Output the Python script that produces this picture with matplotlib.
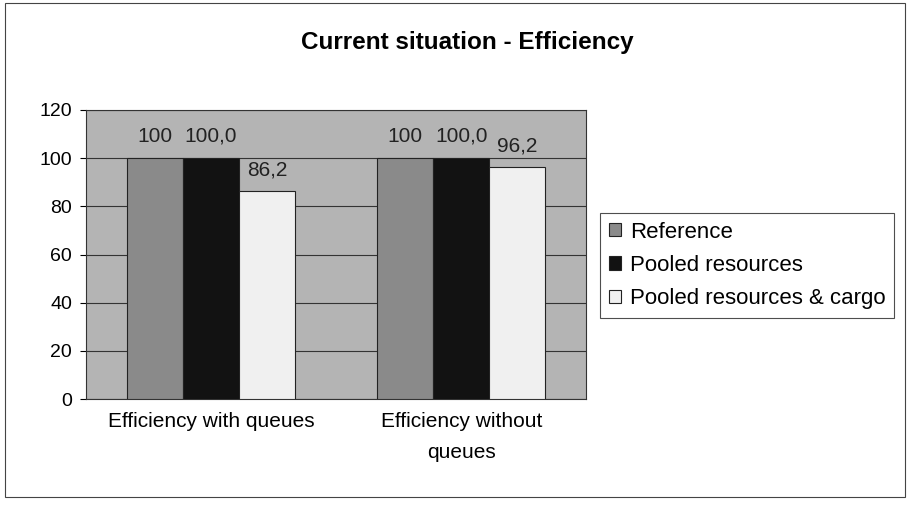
import matplotlib.pyplot as plt
import matplotlib.patches as mpatches
import numpy as np

plt.rcParams["font.family"] = ["Liberation Sans", "DejaVu Sans"]

categories = ["Efficiency with queues", "Efficiency without\nqueues"]
series = ["Reference", "Pooled resources", "Pooled resources & cargo"]
reference = [100, 100]
pooled = [100.0, 100.0]
pooled_cargo = [86.2, 96.2]
label_fmt = ["{:.0f}", "{:.1f}", "{:.1f}"]

values = [reference, pooled, pooled_cargo]
colors = ["#8a8a8a", "#121212", "#f0f0f0"]

fig = plt.figure(figsize=(9.1, 5.09), dpi=100)
ax = fig.add_axes([0.0945, 0.216, 0.550, 0.568])
ax.set_facecolor("#b4b4b4")

x = np.arange(len(categories))
w = 0.224
for i, (name, vals) in enumerate(zip(series, values)):
    pos = x + (i - 1) * w
    ax.bar(pos, vals, width=w, color=colors[i], edgecolor="#222222",
           linewidth=0.8, label=name, zorder=3)
    for p, v in zip(pos, vals):
        ax.text(p, v + 9, label_fmt[i].format(v).replace(".", ","),
                ha="center", va="center", fontsize=15, color="#222222", zorder=4)

ax.set_xlim(-0.5, 1.5)
ax.set_ylim(0, 120)
ax.set_yticks(range(0, 121, 20))
ax.yaxis.grid(True, color="#333333", linewidth=0.8, zorder=1)
ax.set_xticks(x)
ax.set_xticklabels(categories, fontsize=15, linespacing=1.8)
ax.tick_params(axis="x", length=0, pad=9)
ax.tick_params(axis="y", labelsize=14, length=4, pad=6)
for s in ax.spines.values():
    s.set_color("#333333")
    s.set_linewidth(0.8)

fig.text(0.513, 0.917, "Current situation - Efficiency", ha="center", va="center",
         fontsize=17.5, fontweight="bold")

leg = fig.legend(loc="upper left", bbox_to_anchor=(0.659, 0.582), fontsize=16,
                 frameon=True, fancybox=False, edgecolor="#222222",
                 handlelength=0.55, handleheight=0.55, handletextpad=0.4,
                 labelspacing=0.55, borderpad=0.4, borderaxespad=0)
leg.get_frame().set_linewidth(0.8)

fig.patches.append(mpatches.Rectangle((0.006, 0.024), 0.989, 0.97, fill=False,
                                      edgecolor="#444444", linewidth=0.8,
                                      transform=fig.transFigure))

plt.savefig("out.png")
